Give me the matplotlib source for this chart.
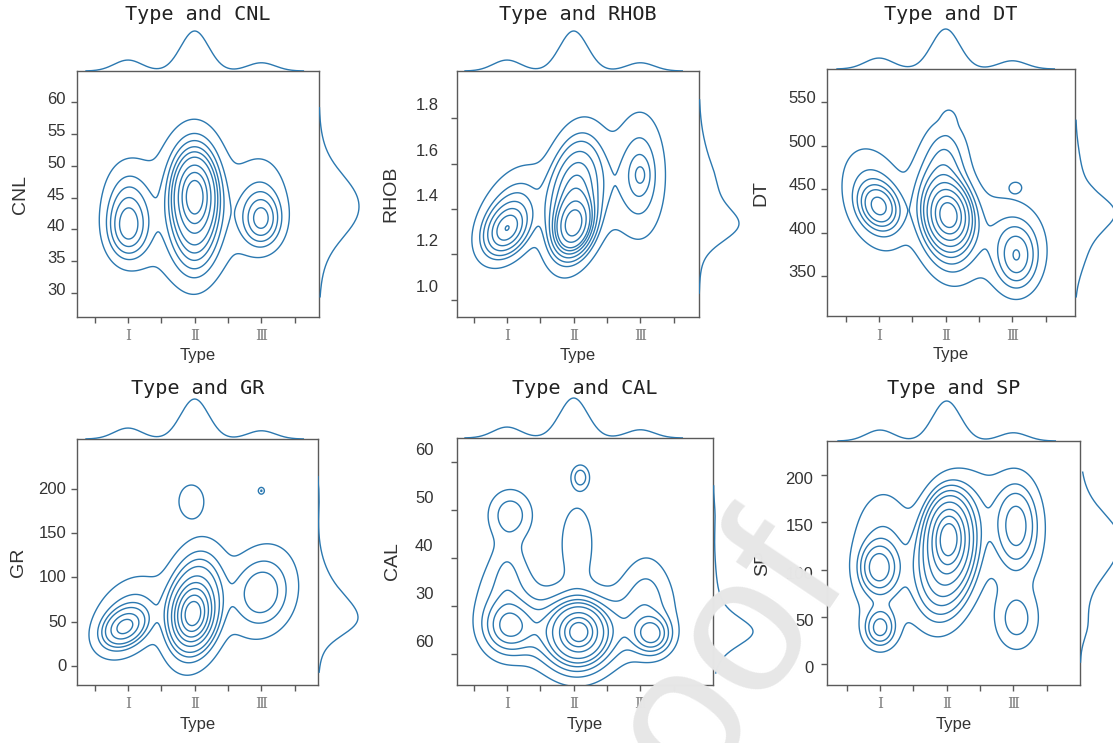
import numpy as np
import matplotlib
matplotlib.use("Agg")
import matplotlib.pyplot as plt
from matplotlib.transforms import ScaledTranslation

# ---------------- data ----------------
TYPE_POS = [1, 2, 3]
TYPE_LABELS = ["Ⅰ", "Ⅱ", "Ⅲ"]
TYPE_WEIGHTS = [0.185, 0.676, 0.139]     # relative share of each type
TYPE_BW = 0.21                            # marginal KDE bandwidth on Type

VARIABLES = ["CNL", "RHOB", "DT", "GR", "CAL", "SP"]
TITLES = ["Type and CNL", "Type and RHOB", "Type and DT",
          "Type and GR", "Type and CAL", "Type and SP"]

CNL_TICKS = [30, 35, 40, 45, 50, 55, 60]
CNL_TICKLABELS = ["30", "35", "40", "45", "50", "55", "60"]
RHOB_TICKS = [1.0, 1.2, 1.4, 1.6, 1.8]
RHOB_TICKLABELS = ["1.0", "1.2", "1.4", "1.6", "1.8"]
DT_TICKS = [350, 400, 450, 500, 550]
DT_TICKLABELS = ["350", "400", "450", "500", "550"]
GR_TICKS = [0, 50, 100, 150, 200]
GR_TICKLABELS = ["0", "50", "100", "150", "200"]
CAL_TICKS = [20, 30, 40, 50, 60]
CAL_TICKLABELS = ["60", "30", "40", "50", "60"]
SP_TICKS = [0, 50, 100, 150, 200]
SP_TICKLABELS = ["0", "50", "100", "150", "200"]

# density clusters:
# (type, value, spread_type, spread_value, correlation, weight)
CNL_COMPONENTS = [
    (1.0, 40.0, 0.19, 3.0, 0.0, 0.08), (1.0, 44.0, 0.22, 4.0, 0.0, 0.07),
    (1.5, 42.0, 0.30, 7.0, 0.0, 0.06), (2.5, 42.0, 0.30, 6.0, 0.0, 0.04),
    (2.0, 45.5, 0.17, 3.2, 0.0, 0.22), (2.0, 43.0, 0.22, 5.5, 0.0, 0.37),
    (2.0, 50.0, 0.25, 4.0, 0.0, 0.04),
    (3.0, 41.5, 0.18, 2.6, 0.0, 0.07), (3.0, 45.0, 0.26, 4.5, 0.0, 0.05),
]
RHOB_COMPONENTS = [
    (1.0, 1.31, 0.19, 0.065, 0.3, 0.10), (1.05, 1.38, 0.30, 0.12, 0.45, 0.10),
    (2.0, 1.33, 0.15, 0.065, 0.2, 0.24), (2.0, 1.45, 0.24, 0.15, 0.25, 0.35),
    (2.5, 1.50, 0.30, 0.15, 0.0, 0.04),
    (3.0, 1.55, 0.08, 0.04, 0.0, 0.006), (3.0, 1.55, 0.22, 0.16, 0.0, 0.10),
]
DT_COMPONENTS = [
    (1.0, 430, 0.17, 15, -0.2, 0.08), (0.95, 438, 0.30, 35, -0.3, 0.10),
    (2.05, 420, 0.17, 18, -0.1, 0.28), (2.0, 420, 0.25, 35, -0.2, 0.32),
    (2.0, 490, 0.20, 25, 0.0, 0.04), (2.05, 530, 0.07, 8, 0.0, 0.002),
    (2.6, 410, 0.30, 30, 0.0, 0.02),
    (3.07, 372, 0.18, 22, 0.0, 0.07), (3.0, 385, 0.32, 32, 0.0, 0.07),
    (3.05, 452, 0.06, 4, 0.0, 0.0012),
]
GR_COMPONENTS = [
    (0.95, 44, 0.18, 12, 0.3, 0.09), (1.0, 55, 0.32, 27, 0.35, 0.09),
    (1.97, 58, 0.16, 18, 0.1, 0.30), (2.0, 68, 0.24, 33, 0.2, 0.33),
    (1.95, 186, 0.13, 13, 0.0, 0.012),
    (3.0, 82, 0.25, 22, 0.0, 0.05), (3.0, 85, 0.32, 32, 0.2, 0.09),
    (3.0, 198, 0.03, 2.5, 0.0, 0.0006),
]
CAL_COMPONENTS = [
    (1.03, 25.7, 0.22, 3.2, 0.0, 0.07), (1.0, 30.0, 0.30, 6.5, 0.0, 0.07),
    (1.0, 37.0, 0.15, 5.0, 0.0, 0.015), (1.05, 49.0, 0.20, 3.2, 0.0, 0.03),
    (1.5, 25.0, 0.30, 4.0, 0.0, 0.04), (2.6, 25.0, 0.30, 4.0, 0.0, 0.03),
    (2.08, 24.6, 0.17, 2.5, 0.0, 0.27), (2.05, 24.0, 0.30, 4.5, 0.0, 0.29),
    (2.05, 43.0, 0.18, 6.0, 0.0, 0.028), (2.1, 56.8, 0.08, 1.5, 0.0, 0.006),
    (3.17, 24.1, 0.17, 2.4, 0.0, 0.05), (3.05, 29.0, 0.30, 5.5, 0.0, 0.06),
    (3.1, 34.0, 0.20, 5.0, 0.0, 0.015),
]
SP_COMPONENTS = [
    (0.98, 102, 0.16, 15, 0.0, 0.05), (1.0, 38, 0.14, 12, 0.0, 0.025),
    (1.05, 110, 0.30, 45, 0.0, 0.10),
    (2.03, 135, 0.17, 22, 0.0, 0.28), (2.0, 115, 0.26, 36, 0.2, 0.36),
    (2.5, 170, 0.30, 30, 0.0, 0.02),
    (3.05, 147, 0.20, 28, 0.0, 0.08), (3.05, 47, 0.20, 20, 0.0, 0.03),
    (3.0, 130, 0.32, 45, 0.0, 0.04),
]

COMPONENTS = [CNL_COMPONENTS, RHOB_COMPONENTS, DT_COMPONENTS,
              GR_COMPONENTS, CAL_COMPONENTS, SP_COMPONENTS]
TICKS = [CNL_TICKS, RHOB_TICKS, DT_TICKS, GR_TICKS, CAL_TICKS, SP_TICKS]
TICKLABELS = [CNL_TICKLABELS, RHOB_TICKLABELS, DT_TICKLABELS,
              GR_TICKLABELS, CAL_TICKLABELS, SP_TICKLABELS]
# observed value range of each log (right marginal support)
VALUE_RANGE = [(29.4, 59.1), (1.03, 1.88), (326, 529),
               (-7, 214), (16, 55), (2, 203)]

# ---------------- layout (pixels) ----------------
W, H, DPI = 1113, 743, 100
BOXES = [(77, 71, 319, 317), (457, 71, 699, 317), (827, 69, 1075, 316),
         (77, 439, 318, 685), (457, 438, 713, 685), (827, 441, 1080, 685)]
XLIMS = [(0.235, 3.864), (0.25, 3.88), (0.22, 3.94),
         (0.235, 3.85), (0.25, 4.09), (0.205, 4.0)]
YLIMS = [(26.23, 64.87), (0.925, 2.007), (304, 588),
         (-21.5, 256.5), (13.5, 65.0), (-22.2, 236)]
YLABEL_DX = [56, 66, 66, 58, 65, 64]
YTICK_GAP = [10, 17, 9, 9, 22, 12]
YTICK_SHIFT = [-4, -14, -5, -1, -13, 3]
TITLE_Y = [15, 15, 15, 388, 388, 388]
MARG = 42

LINE = "#2b78b0"
SPINE = "#5a5a5a"

fig = plt.figure(figsize=(W / DPI, H / DPI), dpi=DPI)


def fx(px):
    return px / W


def fy(py):
    return 1 - py / H


def mixture2d(X, Y, comps):
    Z = np.zeros_like(X)
    for mx, my, sx, sy, r, w in comps:
        dx = (X - mx) / sx
        dy = (Y - my) / sy
        q = (dx * dx - 2 * r * dx * dy + dy * dy) / (1 - r * r)
        Z += w * np.exp(-0.5 * q) / (2 * np.pi * sx * sy * np.sqrt(1 - r * r))
    return Z


def mixture1d(y, comps):
    d = np.zeros_like(y)
    for mx, my, sx, sy, r, w in comps:
        d += w * np.exp(-0.5 * ((y - my) / sy) ** 2) / sy
    return d


def iso_levels(Z, props):
    vals = np.sort(Z.ravel())[::-1]
    cum = np.cumsum(vals) / vals.sum()
    idx = np.searchsorted(cum, 1 - np.asarray(props))
    return np.take(vals, idx, mode="clip")


for i in range(6):
    l, t, r, b = BOXES[i]
    ax = fig.add_axes([fx(l), fy(b), fx(r) - fx(l), (b - t) / H])
    axt = fig.add_axes([fx(l), fy(t), fx(r) - fx(l), MARG / H])
    axr = fig.add_axes([fx(r), fy(b), MARG / W, (b - t) / H])
    xlim, ylim = XLIMS[i], YLIMS[i]
    comps = COMPONENTS[i]

    # joint density contours
    gx = np.linspace(xlim[0] - 0.5, xlim[1] + 0.5, 320)
    span = ylim[1] - ylim[0]
    gy = np.linspace(ylim[0] - 0.2 * span, ylim[1] + 0.2 * span, 320)
    X, Y = np.meshgrid(gx, gy)
    Z = mixture2d(X, Y, comps)
    lev = iso_levels(Z, np.linspace(0.05, 1, 10))
    lev = np.unique(lev)[:-1]
    ax.contour(X, Y, Z, levels=lev, colors=LINE, linewidths=1.0)
    ax.set_xlim(xlim)
    ax.set_ylim(ylim)

    for s in ax.spines.values():
        s.set_color(SPINE)
        s.set_linewidth(1.0)
    ax.set_xticks(TYPE_POS)
    ax.set_xticklabels(TYPE_LABELS, family="DejaVu Serif", color="#808080",
                       fontsize=11)
    ax.set_xticks([0.5, 1.5, 2.5, 3.5], minor=True)
    ax.tick_params(axis="x", which="both", direction="out", length=4,
                   width=1.0, color=SPINE, pad=5)
    ax.set_yticks(TICKS[i])
    ax.set_yticklabels(TICKLABELS[i], family="Liberation Sans", color="#333333",
                       fontsize=12)
    ax.tick_params(axis="y", direction="out", length=4, width=1.0,
                   color=SPINE, pad=(YTICK_GAP[i] - 4) * 0.72)
    off = ScaledTranslation(0, -YTICK_SHIFT[i] / DPI, fig.dpi_scale_trans)
    for lab in ax.get_yticklabels():
        lab.set_transform(lab.get_transform() + off)

    ax.set_xlabel("Type", family="Liberation Sans", fontsize=12, color="#333333")
    ax.xaxis.set_label_coords(0.5, -39 / (b - t))
    ax.xaxis.label.set_va("center")
    ax.set_ylabel(VARIABLES[i], family="Liberation Sans", fontsize=14,
                  color="#333333")
    ax.yaxis.set_label_coords(-YLABEL_DX[i] / (r - l), 0.5)
    ax.yaxis.label.set_va("center")

    # top marginal (Type)
    xs = np.linspace(TYPE_POS[0] - 3 * TYPE_BW, TYPE_POS[-1] + 3 * TYPE_BW, 300)
    dt = np.zeros_like(xs)
    for p, w in zip(TYPE_POS, TYPE_WEIGHTS):
        dt += w * np.exp(-0.5 * ((xs - p) / TYPE_BW) ** 2)
    axt.plot(xs, dt, color=LINE, lw=1.0)
    axt.set_xlim(xlim)
    axt.set_ylim(0, dt.max() * 1.05)
    axt.axis("off")

    # right marginal (log value)
    ys = np.linspace(VALUE_RANGE[i][0], VALUE_RANGE[i][1], 300)
    dr = mixture1d(ys, comps)
    axr.plot(dr, ys, color=LINE, lw=1.0)
    axr.set_ylim(ylim)
    axr.set_xlim(0, dr.max() * 1.05)
    axr.axis("off")

    fig.text(fx((l + r) / 2), fy(TITLE_Y[i]), TITLES[i], family="DejaVu Sans Mono",
             fontsize=14.5, color="#222222", ha="center", va="center")

# watermark
fig.text(fx(680), fy(722), "proof", family="Liberation Sans", fontsize=140,
         color="#e7e7e7", rotation=56, ha="center", va="center",
         rotation_mode="anchor", zorder=10)

fig.savefig("out.png", dpi=DPI)
